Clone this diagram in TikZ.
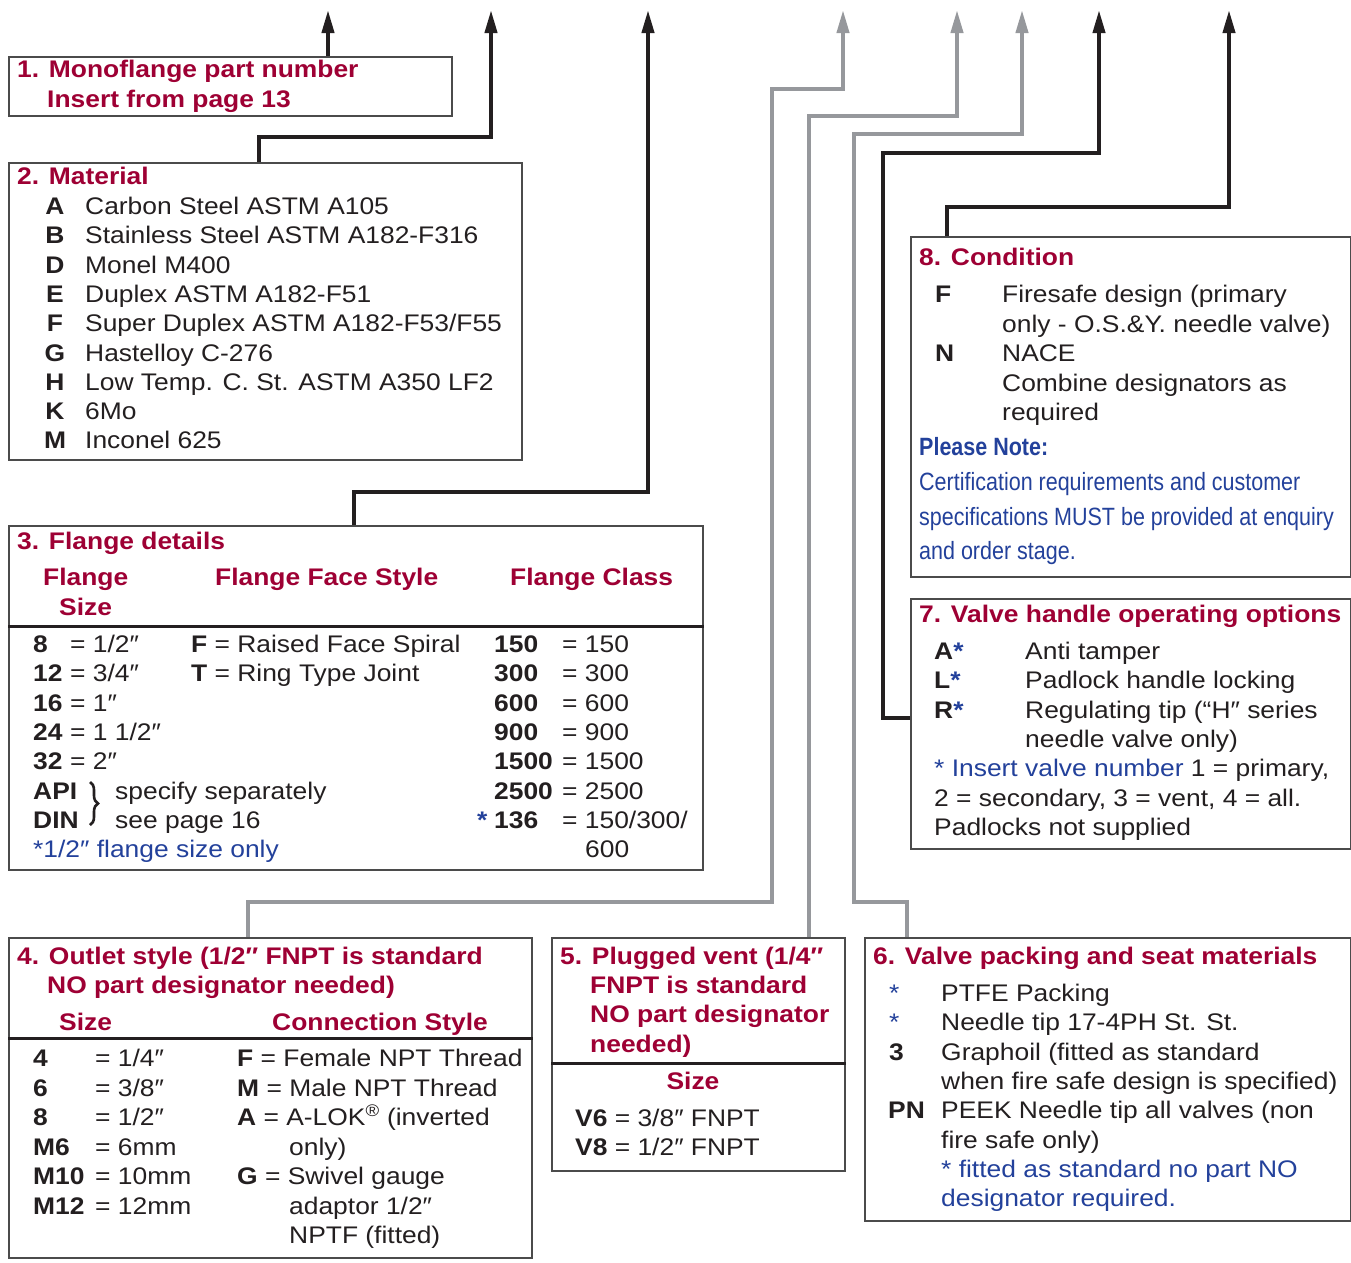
\documentclass[tikz,border=0pt]{standalone}
\usepackage{fontspec}
\setmainfont{Liberation Sans}[FakeStretch=1.1]
\newfontfamily\condfont{Liberation Sans}[FakeStretch=0.86]
\usetikzlibrary{arrows.meta,decorations.pathreplacing}
\definecolor{hred}{RGB}{158,0,52}
\definecolor{hblue}{RGB}{35,65,155}
\definecolor{ink}{RGB}{35,31,32}
\definecolor{conngrey}{RGB}{150,152,156}
\definecolor{boxline}{RGB}{75,75,75}
\begin{document}
\begin{tikzpicture}[x=1pt,y=-1pt,
  box/.style={draw=boxline, line width=1.5pt, inner sep=0pt, anchor=north west},
  txt/.style={anchor=base west, inner sep=0pt, text=ink, font=\fontsize{24}{29}\selectfont},
  key/.style={txt, font=\fontsize{24}{29}\selectfont\bfseries},
  head/.style={txt, text=hred, font=\fontsize{24}{29}\selectfont\bfseries},
  bluetxt/.style={txt, text=hblue},
  note/.style={txt, text=hblue, font=\condfont\fontsize{25}{30}\selectfont},
  rule/.style={draw=ink, line width=3pt},
  conk/.style={draw=ink, line width=4pt, -{Triangle[length=23pt,width=12pt]}},
  cong/.style={draw=conngrey, line width=4pt, -{Triangle[length=23pt,width=12pt]}}]
\fill[white] (0,0) rectangle (1351,1262);
\useasboundingbox (0,0) rectangle (1351,1262);

% arrow tips
\coordinate (t1) at (328,10);
\coordinate (t2) at (491,10);
\coordinate (t3) at (648,10);
\coordinate (t4) at (843,10);
\coordinate (t5) at (957,10);
\coordinate (t6) at (1022,10);
\coordinate (t7) at (1099,10);
\coordinate (t8) at (1229,10);

% boxes
\node[box, minimum width=443pt, minimum height=59pt] (b1) at (8,56) {};
\node[box, minimum width=513pt, minimum height=297pt] (b2) at (8,162) {};
\node[box, minimum width=694pt, minimum height=344pt] (b3) at (8,525) {};
\node[box, minimum width=523pt, minimum height=320pt] (b4) at (8,937) {};
\node[box, minimum width=293pt, minimum height=233pt] (b5) at (551,937) {};
\node[box, minimum width=486pt, minimum height=283pt] (b6) at (864,937) {};
\node[box, minimum width=440pt, minimum height=250pt] (b7) at (910,598) {};
\node[box, minimum width=440pt, minimum height=340pt] (b8) at (910,236) {};

% connectors
\draw[conk] (b1.north -| t1) -- (t1);
\draw[conk] ([xshift=251pt]b2.north west) |- (491,137) -- (t2);
\draw[conk] ([xshift=346pt]b3.north west) |- (648,492) -- (t3);
\draw[cong] ([xshift=240pt]b4.north west) |- (772,902) |- (843,89) -- (t4);
\draw[cong] ([xshift=258pt]b5.north west) |- (957,116) -- (t5);
\draw[cong] ([xshift=43pt]b6.north west) |- (854,902) |- (1022,134) -- (t6);
\draw[conk] (b7.west |- 0,718) -- (883,718) |- (1099,153) -- (t7);
\draw[conk] ([xshift=37pt]b8.north west) |- (1229,207) -- (t8);

% box 1
\node[head] (h1a) at (17,77.5) {1. Monoflange part number};
\node[head] (h1b) at (47,107.5) {Insert from page 13};

% box 2
\node[head] (h2) at (17,184.5) {2. Material};
\foreach \k/\t [count=\i from 0] in {A/Carbon Steel ASTM A105, B/Stainless Steel ASTM A182-F316, D/Monel M400, E/Duplex ASTM A182-F51, F/{Super Duplex ASTM A182-F53/F55}, G/Hastelloy C-276, H/{Low Temp. C. St. ASTM A350 LF2}, K/6Mo, M/Inconel 625} {
  \node[key, anchor=base] (mk\i) at (55,{214.5+29.3*\i}) {\k};
  \node[txt] (mt\i) at (85,{214.5+29.3*\i}) {\t};
}

% box 3
\node[head] (h3) at (17,549.5) {3. Flange details};
\node[head] (h3a) at (43,585.5) {Flange};
\node[head] (h3b) at (59,615.5) {Size};
\node[head] (h3c) at (215,585.5) {Flange Face Style};
\node[head] (h3d) at (510,585.5) {Flange Class};
\draw[rule] (b3.west |- 0,626) -- (b3.east |- 0,626);
\node[key] (s1k) at (33,652.5) {8};
\node[txt] (s1v) at (70,652.5) {= 1/2″};
\node[key] (s2k) at (33,681.8) {12};
\node[txt] (s2v) at (70,681.8) {= 3/4″};
\node[key] (s3k) at (33,711.1) {16};
\node[txt] (s3v) at (70,711.1) {= 1″};
\node[key] (s4k) at (33,740.4) {24};
\node[txt] (s4v) at (70,740.4) {= 1 1/2″};
\node[key] (s5k) at (33,769.7) {32};
\node[txt] (s5v) at (70,769.7) {= 2″};
\node[key] (s6k) at (33,799.0) {API};
\node[key] (s7k) at (33,828.3) {DIN};
\draw[ink, line width=2.6pt, decorate, decoration={brace, amplitude=8pt}] (90,782) -- (90,825);
\node[txt] (s6v) at (115,799.0) {specify separately};
\node[txt] (s7v) at (115,828.3) {see page 16};
\node[bluetxt] (s8) at (33,857.6) {*1/2″ flange size only};
\node[txt] (f1) at (191,652.5) {\textbf{F} = Raised Face Spiral};
\node[txt] (f2) at (191,681.8) {\textbf{T} = Ring Type Joint};
\node[key] (c1k) at (494,652.5) {150};
\node[txt] (c1v) at (562,652.5) {= 150};
\node[key] (c2k) at (494,681.8) {300};
\node[txt] (c2v) at (562,681.8) {= 300};
\node[key] (c3k) at (494,711.1) {600};
\node[txt] (c3v) at (562,711.1) {= 600};
\node[key] (c4k) at (494,740.4) {900};
\node[txt] (c4v) at (562,740.4) {= 900};
\node[key] (c5k) at (494,769.7) {1500};
\node[txt] (c5v) at (562,769.7) {= 1500};
\node[key] (c6k) at (494,799.0) {2500};
\node[txt] (c6v) at (562,799.0) {= 2500};
\node[key, text=hblue] (c7s) at (477,828.3) {*};
\node[key] (c7k) at (494,828.3) {136};
\node[txt] (c7v) at (562,828.3) {= 150/300/};
\node[txt] (c8v) at (585,857.6) {600};

% box 4
\node[head] (h4a) at (17,964.5) {4. Outlet style (1/2″ FNPT is standard};
\node[head] (h4b) at (47,993.5) {NO part designator needed)};
\node[head] (h4c) at (59,1030.5) {Size};
\node[head] (h4d) at (272,1030.5) {Connection Style};
\draw[rule] (b4.west |- 0,1038) -- (b4.east |- 0,1038);
\node[key] (o1k) at (33,1066.5) {4};
\node[txt] (o1v) at (95,1066.5) {= 1/4″};
\node[key] (o2k) at (33,1096) {6};
\node[txt] (o2v) at (95,1096) {= 3/8″};
\node[key] (o3k) at (33,1125.5) {8};
\node[txt] (o3v) at (95,1125.5) {= 1/2″};
\node[key] (o4k) at (33,1155) {M6};
\node[txt] (o4v) at (95,1155) {= 6mm};
\node[key] (o5k) at (33,1184.5) {M10};
\node[txt] (o5v) at (95,1184.5) {= 10mm};
\node[key] (o6k) at (33,1214) {M12};
\node[txt] (o6v) at (95,1214) {= 12mm};
\node[txt] (p1) at (237,1066.5) {\textbf{F} = Female NPT Thread};
\node[txt] (p2) at (237,1096) {\textbf{M} = Male NPT Thread};
\node[txt] (p3) at (237,1125.5) {\textbf{A} = A-LOK\textsuperscript{®} (inverted};
\node[txt] (p4) at (289,1155) {only)};
\node[txt] (p5) at (237,1184.5) {\textbf{G} = Swivel gauge};
\node[txt] (p6) at (289,1214) {adaptor 1/2″};
\node[txt] (p7) at (289,1243.5) {NPTF (fitted)};

% box 5
\node[head] (h5a) at (560,964.5) {5. Plugged vent (1/4″};
\node[head] (h5b) at (590,993.5) {FNPT is standard};
\node[head] (h5c) at (590,1022.5) {NO part designator};
\node[head] (h5d) at (590,1052.5) {needed)};
\draw[rule] (b5.west |- 0,1063) -- (b5.east |- 0,1063);
\node[head, anchor=base] (h5e) at (693,1089.5) {Size};
\node[txt] (v1) at (575,1126.5) {\textbf{V6} = 3/8″ FNPT};
\node[txt] (v2) at (575,1155.5) {\textbf{V8} = 1/2″ FNPT};

% box 6
\node[head] (h6) at (873,964.5) {6. Valve packing and seat materials};
\node[bluetxt] (k1) at (889,1001.5) {*};
\node[bluetxt] (k2) at (889,1030.8) {*};
\node[key] (k3) at (889,1060.1) {3};
\node[key] (k4) at (888,1118.7) {PN};
\node[txt] (q1) at (941,1001.5) {PTFE Packing};
\node[txt] (q2) at (941,1030.8) {Needle tip 17-4PH St. St.};
\node[txt] (q3) at (941,1060.1) {Graphoil (fitted as standard};
\node[txt] (q4) at (941,1089.4) {when fire safe design is specified)};
\node[txt] (q5) at (941,1118.7) {PEEK Needle tip all valves (non};
\node[txt] (q6) at (941,1148) {fire safe only)};
\node[bluetxt] (q7) at (941,1177.3) {* fitted as standard no part NO};
\node[bluetxt] (q8) at (941,1206.6) {designator required.};

% box 7
\node[head] (h7) at (919,622.5) {7. Valve handle operating options};
\node[key] (r1k) at (934,659.5) {A\textcolor{hblue}{*}};
\node[key] (r2k) at (934,688.8) {L\textcolor{hblue}{*}};
\node[key] (r3k) at (934,718.1) {R\textcolor{hblue}{*}};
\node[txt] (r1) at (1025,659.5) {Anti tamper};
\node[txt] (r2) at (1025,688.8) {Padlock handle locking};
\node[txt] (r3) at (1025,718.1) {Regulating tip (“H″ series};
\node[txt] (r4) at (1025,747.4) {needle valve only)};
\node[txt] (r5) at (934,776.7) {\textcolor{hblue}{* Insert valve number} 1 = primary,};
\node[txt] (r6) at (934,806) {2 = secondary, 3 = vent, 4 = all.};
\node[txt] (r7) at (934,835.3) {Padlocks not supplied};

% box 8
\node[head] (h8) at (919,265.5) {8. Condition};
\node[key] (n1k) at (935,302.5) {F};
\node[key] (n2k) at (935,361.5) {N};
\node[txt] (n1) at (1002,302.5) {Firesafe design (primary};
\node[txt] (n2) at (1002,332) {only - O.S.\&Y. needle valve)};
\node[txt] (n3) at (1002,361.5) {NACE};
\node[txt] (n4) at (1002,391) {Combine designators as};
\node[txt] (n5) at (1002,420.5) {required};
\node[note, font=\condfont\fontsize{25}{30}\selectfont\bfseries] (pn) at (919,455) {Please Note:};
\node[note] (pn1) at (919,490) {Certification requirements and customer};
\node[note] (pn2) at (919,525) {specifications MUST be provided at enquiry};
\node[note] (pn3) at (919,559) {and order stage.};
\end{tikzpicture}
\end{document}
